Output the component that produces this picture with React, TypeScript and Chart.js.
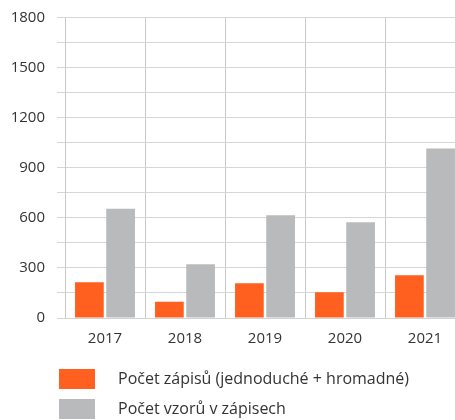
import React, { useEffect, useRef } from "react";
import { Chart, registerables } from "chart.js";

Chart.register(...registerables);

const years = ["2017", "2018", "2019", "2020", "2021"];
const zapisy = [214, 98, 208, 154, 256];
const vzory = [655, 322, 616, 574, 1015];
const seriesLabels = ["Počet zápisů (jednoduché + hromadné)", "Počet vzorů v zápisech"];
const seriesColors = ["#FF5F1F", "#B9BABC"];
const yMin = 0;
const yMax = 1800;
const yStep = 150;
const yLabelStep = 300;

function swatch(color: string) {
  const c = document.createElement("canvas");
  c.width = 51;
  c.height = 20;
  const ctx = c.getContext("2d")!;
  ctx.fillStyle = color;
  ctx.fillRect(0, 0, 36, 20);
  return c;
}

const legendShift = {
  id: "legendShift",
  afterLayout(chart: any) {
    if (chart.legend) {
      chart.legend.left += 45;
    }
  },
};

export default function App() {
  const ref = useRef<HTMLCanvasElement>(null);
  useEffect(() => {
    document.body.style.margin = "0";
    const canvas = ref.current!;
    const swatches = seriesColors.map(swatch);
    const chart = new Chart(canvas, {
      type: "bar",
      data: {
        labels: years,
        datasets: [
          {
            label: seriesLabels[0],
            data: zapisy,
            backgroundColor: seriesColors[0],
            categoryPercentage: 0.78,
            barPercentage: 0.92,
          },
          {
            label: seriesLabels[1],
            data: vzory,
            backgroundColor: seriesColors[1],
            categoryPercentage: 0.78,
            barPercentage: 0.92,
          },
        ],
      },
      options: {
        responsive: false,
        animation: false,
        layout: { padding: { left: 0, right: 15, top: 7, bottom: 1 } },
        font: { family: "'Open Sans', sans-serif", size: 15 },
        scales: {
          x: {
            grid: { color: "#C9C9C9", drawTicks: false, offset: true },
            border: { display: true, color: "#D3D3D3" },
            ticks: { color: "#333", font: { family: "'Open Sans', sans-serif", size: 15 }, padding: 12 },
            afterFit: (s: any) => { s.height = 39; },
          },
          y: {
            min: yMin,
            max: yMax,
            grid: { color: "#D6D6D6", tickLength: 8 },
            border: { display: true, color: "#C9C9C9" },
            ticks: {
              stepSize: yStep,
              color: "#333",
              padding: 12,
              autoSkip: false,
              font: { family: "'Open Sans', sans-serif", size: 15, lineHeight: 0.75 },
              callback: (v: any) => (Number(v) % yLabelStep === 0 ? String(v) : ""),
            },
            afterFit: (s: any) => { s.width = 65; },
          },
        },
        plugins: {
          tooltip: { enabled: false },
          legend: {
            position: "bottom",
            align: "start",
            labels: {
              usePointStyle: true,
              pointStyleWidth: 51,
              boxHeight: 16,
              padding: 14,
              color: "#333",
              font: { family: "'Open Sans', sans-serif", size: 16 },
              generateLabels: (ch: any) =>
                ch.data.datasets.map((ds: any, i: number) => ({
                  text: ds.label,
                  fillStyle: seriesColors[i],
                  strokeStyle: seriesColors[i],
                  lineWidth: 0,
                  pointStyle: swatches[i],
                  hidden: false,
                  datasetIndex: i,
                  fontColor: "#333",
                })),
            },
          },
        },
      },
      plugins: [legendShift],
    });
    return () => chart.destroy();
  }, []);
  return (
    <div style={{ width: 455, height: 420, overflow: "hidden", position: "relative" }}>
      <canvas ref={ref} width={480} height={428} style={{ display: "block" }} />
    </div>
  );
}
